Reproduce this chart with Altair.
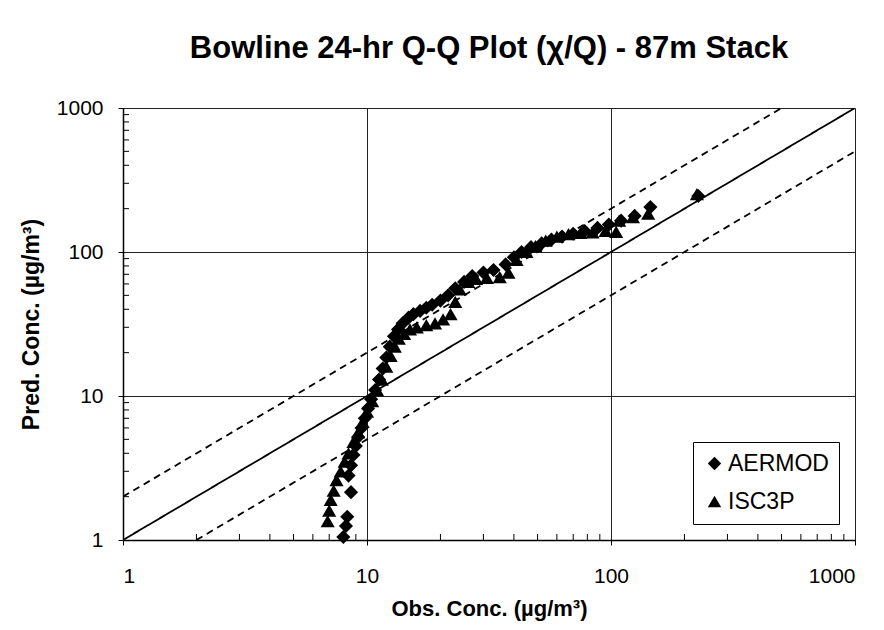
import altair as alt
import pandas as pd

# ---- data ----
aermod_obs = [8.0, 8.2, 8.3, 8.6, 8.4, 8.6, 8.8, 9.0, 9.2, 9.5, 9.8, 10.1, 10.4, 10.8, 11.2, 11.6,
              12.0, 12.4, 12.9, 13.4, 14.0, 14.8, 15.5, 16.5, 17.5, 18.5, 20, 21.5, 23, 25, 27, 30,
              33, 37, 40, 43, 47, 52, 57, 63, 70, 78, 88, 98, 110, 125, 145, 228]
aermod_pred = [1.05, 1.25, 1.45, 2.15, 2.8, 3.3, 3.9, 4.5, 5.2, 6.0, 7.0, 8.2, 9.5, 11, 13, 15.5,
               18.5, 22, 26, 29, 32, 35, 37, 39, 41, 43, 46, 50, 56, 62, 68, 72,
               75, 82, 92, 100, 108, 115, 122, 128, 134, 140, 147, 155, 165, 178, 205, 245]

isc_obs = [6.9, 7.0, 7.1, 7.3, 7.5, 7.8, 8.1, 8.4, 8.8, 9.2, 9.6, 10.0, 10.5, 11.0, 11.5, 12.0,
           12.5, 13.0, 13.5, 14.2, 15, 16, 17.5, 19, 20.5, 22, 23, 24, 26, 28, 31, 35,
           38, 41, 45, 49, 54, 60, 67, 75, 84, 95, 105, 108, 123, 142, 225]
isc_pred = [1.35, 1.6, 1.9, 2.2, 2.6, 3.0, 3.5, 4.0, 4.8, 5.6, 6.6, 7.8, 9.2, 11, 13, 16,
            19, 22, 25, 27, 29, 30, 31, 32, 34, 37, 45, 55, 62, 65, 66, 67,
            72, 88, 100, 110, 120, 128, 133, 136, 137, 140, 138, 165, 175, 185, 252]

series_names = ["AERMOD", "ISC3P"]
axis_values = [1, 10, 100, 1000]
minor_values = [m * d for d in [1, 10, 100] for m in range(2, 10)]

# reference lines: 1:1, factor-of-two bounds
ref_line = ["1:1", "1:1", "x2", "x2", "x0.5", "x0.5"]
ref_style = ["solid", "solid", "dashed", "dashed", "dashed", "dashed"]
ref_obs = [1, 1000, 1, 500, 2, 1000]
ref_pred = [1, 1000, 2, 1000, 1, 500]

pts = pd.concat([
    pd.DataFrame({"obs": aermod_obs, "pred": aermod_pred, "model": series_names[0]}),
    pd.DataFrame({"obs": isc_obs, "pred": isc_pred, "model": series_names[1]}),
])
refs = pd.DataFrame({"obs": ref_obs, "pred": ref_pred, "line": ref_line, "style": ref_style})
minors = pd.DataFrame({"v": minor_values})

FONT = "Liberation Sans"
W, H = 732, 432

xscale = alt.Scale(type="log", domain=[1, 1000], nice=False)
yscale = alt.Scale(type="log", domain=[1, 1000], nice=False)

xaxis = alt.Axis(values=axis_values, format="d", title="Obs. Conc. (µg/m³)", grid=True,
                 gridColor="#222", gridWidth=1, domainColor="black", domainWidth=1.5,
                 tickColor="black", tickSize=5, labelFontSize=21, labelFont=FONT,
                 labelColor="black", labelPadding=20, titleFont=FONT, titleFontSize=22,
                 titleFontWeight="bold", titleColor="black", titlePadding=12)
yaxis = alt.Axis(values=axis_values, format="d", title="Pred. Conc. (µg/m³)", grid=True,
                 gridColor="#222", gridWidth=1, domainColor="black", domainWidth=1.5,
                 tickColor="black", tickSize=5, labelFontSize=21, labelFont=FONT,
                 labelColor="black", labelPadding=15, titleFont=FONT, titleFontSize=23,
                 titleFontWeight="bold", titleColor="black", titlePadding=13)

lines = alt.Chart(refs).mark_line(color="black", strokeWidth=1.8, clip=True).encode(
    x=alt.X("obs:Q", scale=xscale, axis=xaxis),
    y=alt.Y("pred:Q", scale=yscale, axis=yaxis),
    detail="line:N",
    strokeDash=alt.StrokeDash("style:N", scale=alt.Scale(domain=["solid", "dashed"],
                                                          range=[[1, 0], [7, 5]]), legend=None),
)

ytick = alt.Chart(minors).mark_rule(color="black", strokeWidth=1).encode(
    y=alt.Y("v:Q", scale=yscale), x=alt.value(0), x2=alt.value(6))
xtick = alt.Chart(minors).mark_rule(color="black", strokeWidth=1).encode(
    x=alt.X("v:Q", scale=xscale), y=alt.value(H), y2=alt.value(H - 6))

points = alt.Chart(pts).mark_point(filled=True, opacity=1, strokeWidth=0, color="black",
                                   size=200).encode(
    x=alt.X("obs:Q", scale=xscale),
    y=alt.Y("pred:Q", scale=yscale),
    shape=alt.Shape("model:N", scale=alt.Scale(domain=series_names, range=["diamond", "triangle-up"]),
                    legend=alt.Legend(title=None, orient="none", legendX=570, legendY=334,
                                      strokeColor="black", padding=10, fillColor="white",
                                      labelFont=FONT, labelFontSize=23, labelColor="black",
                                      symbolSize=180, symbolFillColor="black",
                                      symbolStrokeColor="black", symbolStrokeWidth=0,
                                      rowPadding=14, labelOffset=2, labelLimit=200)),
)

chart = alt.layer(lines, ytick, xtick, points).properties(
    width=W, height=H,
    title=alt.Title("Bowline 24-hr Q-Q Plot (χ/Q) - 87m Stack", font=FONT, fontSize=31,
                    fontWeight="bold", color="black", anchor="middle", offset=32),
    autosize=alt.AutoSizeParams(type="none"),
    padding={"left": 115, "top": 100, "right": 21, "bottom": 82},
).configure_view(stroke="black", strokeWidth=1.5).configure(background="white")

chart.save("out.html", embed_options={"renderer": "svg", "actions": False})
